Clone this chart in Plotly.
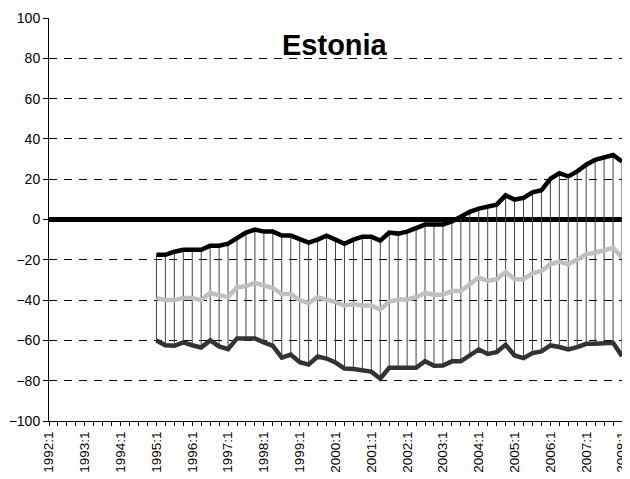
import plotly.graph_objects as go

years = list(range(1992, 2009))
quarters = [f"{y}:{q}" for y in years for q in (1, 2, 3, 4)][:65]  # 1992:1 .. 2008:1
tick_labels = [q if q.endswith(":1") else "" for q in quarters]

start_quarter = "1995:1"

upper = [-17.5, -17.5, -16, -15, -15, -15, -13, -13, -12, -9.5, -6.5, -5,
         -6, -6, -8, -8, -10, -11.5, -10, -8, -10, -12, -10, -8.5,
         -8.5, -10.5, -6.5, -7, -6, -4.5, -2.5, -2.5, -2.5, -1, 1.5, 3.8,
         5.4, 6.3, 7.4, 12, 9.9, 10.7, 13.5, 14.5, 20.2, 23, 21.4, 23.9,
         27.2, 29.6, 31, 32, 28.8]

middle = [-39, -40, -40, -39, -39, -40, -36.5, -37.5, -38.5, -33.7, -33, -31.5,
          -33, -34, -37, -37, -40, -41.5, -38.6, -39.7, -41, -42.7, -42, -42.7,
          -42.7, -44.7, -40.7, -39.7, -39.7, -38.6, -36.5, -37.3, -37.3, -35.5, -35.5, -32.2,
          -28.8, -30.5, -29.6, -26, -29.6, -29.6, -26.7, -25.5, -22.2, -20.9, -22.2, -19.8,
          -17.3, -16.5, -15.3, -14, -18.9]

lower = [-60, -62.4, -62.7, -61, -62.4, -63.5, -60, -63, -64.4, -59, -59, -59,
         -61, -62.7, -68.5, -67, -70.8, -72, -68, -69, -71, -74, -74.2, -75,
         -75.5, -79, -73.6, -73.6, -73.6, -73.6, -70.3, -72.6, -72.5, -70.4, -70.4, -67.4,
         -64.5, -66.7, -65.8, -62.2, -67.5, -68.8, -66.3, -65.5, -62.5, -63.3, -64.5, -63.3,
         -61.7, -61.7, -61.7, -61.2, -67.8]

s = quarters.index(start_quarter)
xq = quarters[s:s + len(upper)]

# high-low connector lines
hl_x, hl_y = [], []
for q, hi, lo in zip(xq, upper, lower):
    hl_x += [q, q, None]
    hl_y += [hi, lo, None]

fig = go.Figure()
fig.add_trace(go.Scatter(x=hl_x, y=hl_y, mode="lines",
                         line=dict(color="#444444", width=1), hoverinfo="skip",
                         showlegend=False, cliponaxis=False))
fig.add_trace(go.Scatter(x=xq, y=middle, mode="lines",
                         line=dict(color="#c0c0c0", width=4.5), showlegend=False, cliponaxis=False))
fig.add_trace(go.Scatter(x=xq, y=lower, mode="lines",
                         line=dict(color="#333333", width=4.5), showlegend=False, cliponaxis=False))
fig.add_trace(go.Scatter(x=xq, y=upper, mode="lines",
                         line=dict(color="#000000", width=4.5), showlegend=False, cliponaxis=False))

fig.add_annotation(text="<b>Estonia</b>", xref="paper", yref="paper",
                   x=0.499, y=0.933, xanchor="center", yanchor="middle",
                   showarrow=False,
                   font=dict(family="Liberation Sans, Arial, sans-serif", size=29, color="#000"))

# page body has an 8px margin, so the figure is sized to fit the 630x479 window
fig.update_layout(
    width=622, height=471,
    margin=dict(l=41, r=8, t=10, b=58),
    paper_bgcolor="white", plot_bgcolor="white",
    font=dict(family="Liberation Sans, Arial, sans-serif", size=14, color="#000"),
    xaxis=dict(
        type="category", categoryorder="array", categoryarray=quarters,
        range=[0, len(quarters) - 1], automargin=False,
        tickmode="array", tickvals=quarters, ticktext=tick_labels,
        tickangle=-90, ticks="outside", ticklen=4, tickcolor="#000", tickwidth=1,
        showline=True, linecolor="#000", linewidth=1,
        showgrid=False, zeroline=False,
        tickfont=dict(size=13.5),
    ),
    yaxis=dict(
        range=[-100, 100], tickmode="linear", tick0=-100, dtick=20, automargin=False,
        ticks="outside", ticklen=5, tickcolor="#000", tickwidth=1,
        showline=True, linecolor="#000", linewidth=1,
        showgrid=True, gridcolor="#000", gridwidth=1, griddash="8px,7px",
        zeroline=True, zerolinecolor="#000", zerolinewidth=5,
        tickfont=dict(size=14),
    ),
)

fig.write_html("out.html")
